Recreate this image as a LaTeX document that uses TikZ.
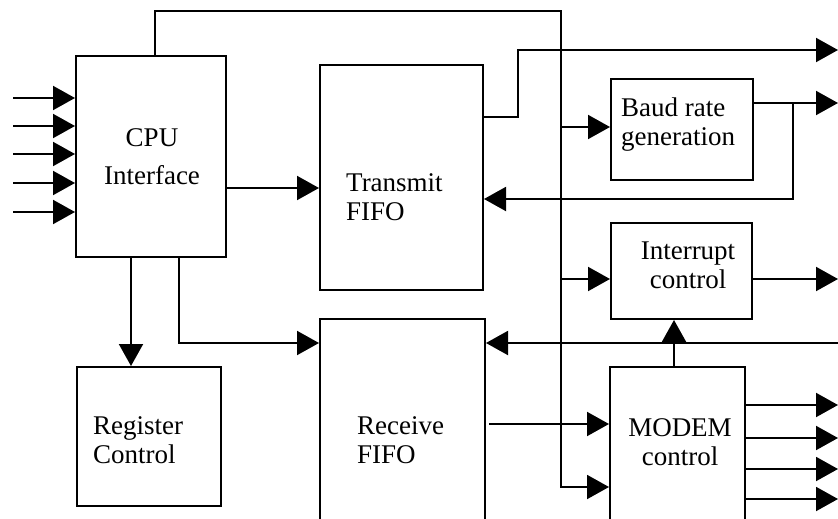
\documentclass[tikz,border=0pt]{standalone}
\usepackage{fontspec}
\setmainfont{Liberation Serif}
\usepackage{tikz}
\usetikzlibrary{arrows.meta, positioning}

\begin{document}
\begin{tikzpicture}[x=1pt, y=-1pt,
            block/.style={draw, line width=2pt, inner sep=0pt},
            lbl/.style={inner sep=0pt, align=left, font=\fontsize{27}{29}\selectfont},
            wire/.style={line width=2pt},
            sig/.style={wire, -{Triangle[length=22pt, width=24pt]}}]
            \clip (0,0) rectangle (838,519);
            \node[block, minimum width=150pt, minimum height=201pt] (cpu) at (151,156.5) {};
            \node[block, minimum width=163pt, minimum height=225pt] (txfifo) at (401.5,177.5) {};
            \node[block, minimum width=142pt, minimum height=101pt] (baud) at (682,129.5) {};
            \node[block, minimum width=141pt, minimum height=96pt] (intr) at (681.5,271) {};
            \node[block, minimum width=144pt, minimum height=139pt] (reg) at (149,436.5) {};
            \node[block, minimum width=165pt, minimum height=221pt] (rxfifo) at (402.5,429.5) {};
            \node[block, minimum width=135pt, minimum height=173pt] (modem) at (677.5,453.5) {};
            \node[lbl, align=center, anchor=base] (cputxt) at (152,184) {CPU\\[9pt]Interface};
            \node[lbl, anchor=base west] (txtxt) at (346,220) {Transmit\\FIFO};
            \node[lbl, anchor=base west] (baudtxt) at (621,145) {Baud rate\\generation};
            \node[lbl, align=center, anchor=base] (intrtxt) at (688,288) {Interrupt\\control};
            \node[lbl, anchor=base west] (regtxt) at (93,463) {Register\\Control};
            \node[lbl, anchor=base west] (rxtxt) at (357,463) {Receive\\FIFO};
            \node[lbl, align=center, anchor=base] (modemtxt) at (680,465) {MODEM\\control};
            \foreach \y [count=\i] in {98,126,154,183,212} {
                \coordinate (in\i) at (13,\y);
                \draw[sig] (in\i) -- (in\i -| cpu.west);
            }
            \coordinate (bus) at (561,11);
            \draw[sig] (cpu.north -| 155,0) |- (bus) |- (modem.west |- 0,487);
            \draw[sig] (bus |- 0,127) -- (baud.west |- 0,127);
            \draw[sig] (bus |- 0,279) -- (intr.west |- 0,279);
            \draw[sig] (cpu.east |- 0,188) -- (txfifo.west |- 0,188);
            \draw[sig] (cpu.south -| 131,0) -- (reg.north -| 131,0);
            \draw[sig] (cpu.south -| 179,0) |- (rxfifo.west |- 0,343);
            \coordinate (out1) at (838,50);
            \draw[sig] (txfifo.east |- 0,117) -| (518,50) -- (out1);
            \coordinate (out2) at (838,103);
            \coordinate (tap) at (793,103);
            \draw[sig] (baud.east |- out2) -- (out2);
            \draw[sig] (tap) |- (txfifo.east |- 0,199);
            \coordinate (out3) at (838,279);
            \draw[sig] (intr.east |- out3) -- (out3);
            \coordinate (rxin) at (838,343);
            \draw[sig] (rxin) -- (rxfifo.east |- rxin);
            \draw[sig] (489,424) -- (modem.west |- 0,424);
            \draw[sig] (modem.north -| 674,0) -- (intr.south -| 674,0);
            \foreach \y [count=\i] in {405,438,469,499} {
                \coordinate (mout\i) at (838,\y);
                \draw[sig] (modem.east |- mout\i) -- (mout\i);
            }
\end{tikzpicture}
\end{document}
